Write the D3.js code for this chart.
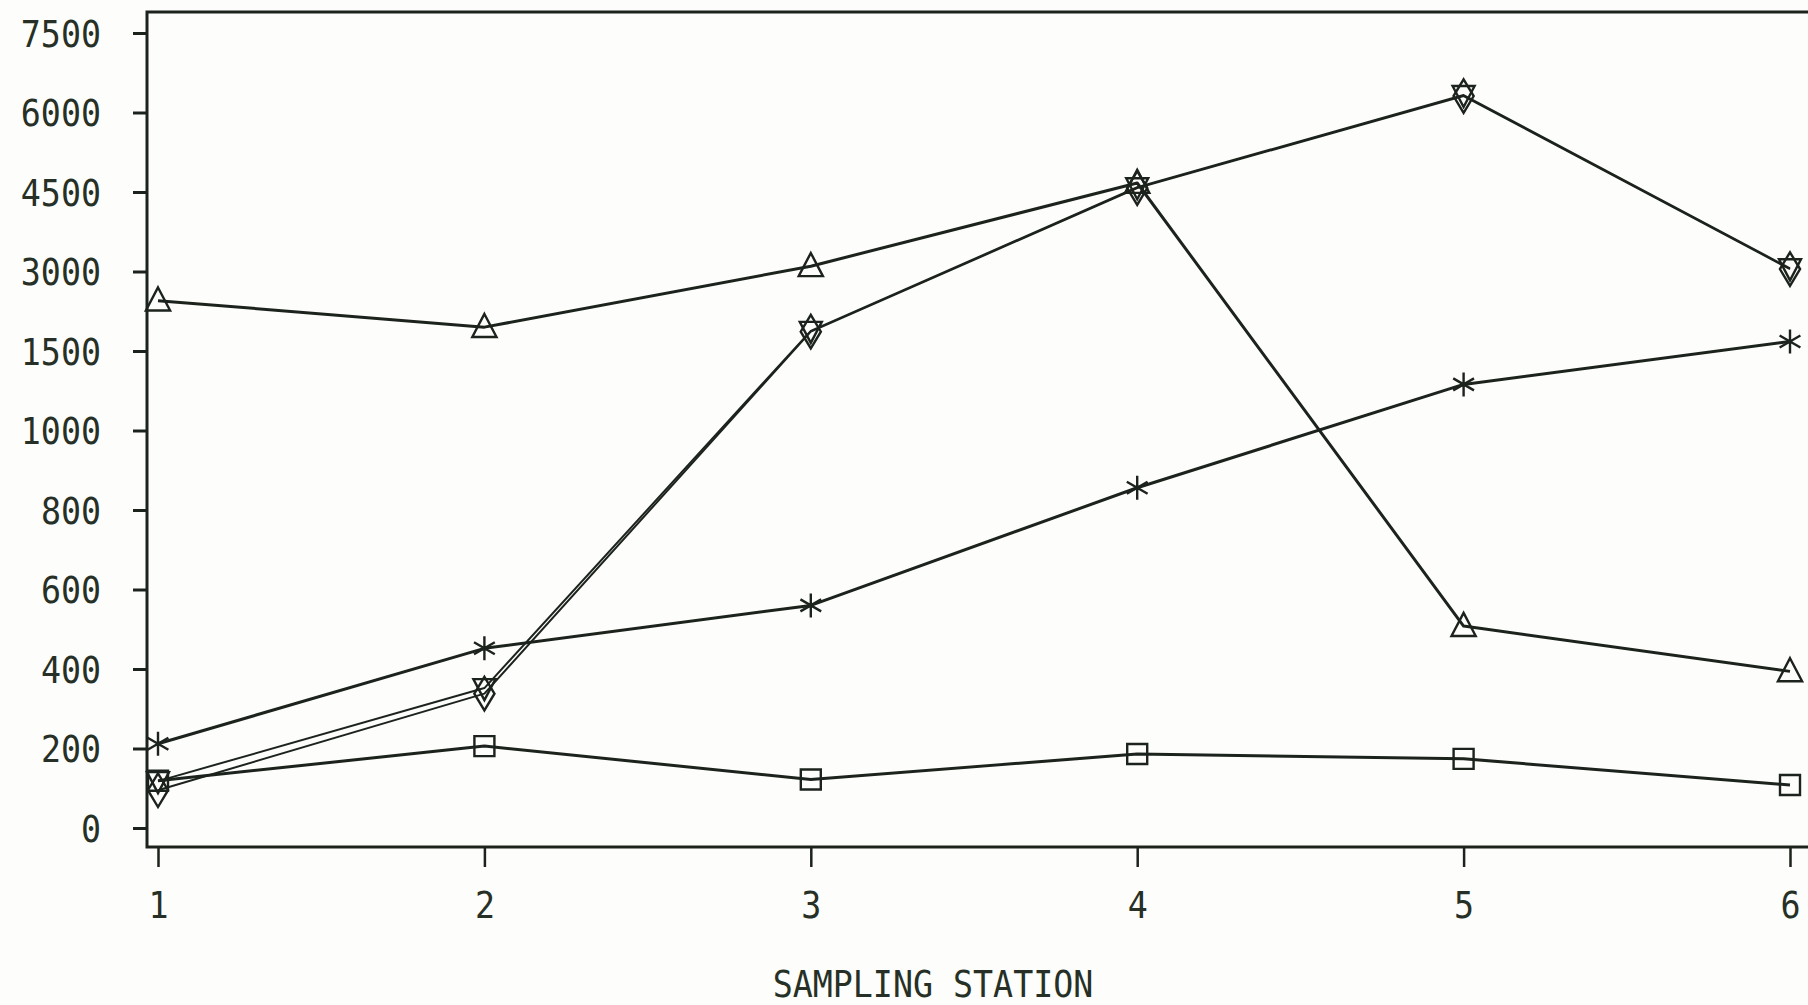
<!DOCTYPE html>
<html>
<head>
<meta charset="utf-8">
<script src="https://cdn.jsdelivr.net/npm/d3@7"></script>
<style>
  html, body { margin: 0; padding: 0; background: #fdfdfb; overflow: hidden; }
  svg { display: block; }
  text { font-family: "DejaVu Sans Mono", "Liberation Mono", monospace; fill: #263026; }
</style>
</head>
<body>
<svg id="chart" width="1808" height="1005"></svg>
<script>
// Sampling stations along the x axis
const stations = [1, 2, 3, 4, 5, 6];

// Y tick values: equally spaced on the axis (piecewise scale)
const yTicks = [0, 200, 400, 600, 800, 1000, 1500, 3000, 4500, 6000, 7500];

// Series values at each station
const triangleValues    = [2450, 1950, 3100, 4670, 508, 394];
const invTriangleValues = [118, 352, 1880, 4590, 6330, 3060];
const diamondValues     = [95, 338, 1865, 4575, 6310, 3045];
const asteriskValues    = [212, 452, 560, 856, 1290, 1680];
const squareValues      = [119, 206, 122, 186, 174, 108];

const xAxisTitle = "SAMPLING STATION";

const frame = { left: 147, top: 12, right: 1830, bottom: 847 };
const ink = "#1c221c";
const fontSize = 37;
const squeeze = 0.9;   // narrower glyphs, like the plotter font

const svg = d3.select("#chart");

const x = d3.scaleLinear().domain([1, 6]).range([158, 1790]);
const y = d3.scaleLinear()
  .domain(yTicks)
  .range(d3.quantize(d3.interpolate(828, 33), yTicks.length));

// Narrow a text horizontally about its anchor point
function condense(sel) {
  sel.each(function () {
    const t = d3.select(this);
    const ax = +t.attr("x") || 0;
    t.attr("transform", `translate(${ax},0) scale(${squeeze},1) translate(${-ax},0)`);
  });
}

// Plot frame
svg.append("rect")
  .attr("x", frame.left).attr("y", frame.top)
  .attr("width", frame.right - frame.left).attr("height", frame.bottom - frame.top)
  .attr("fill", "none").attr("stroke", ink).attr("stroke-width", 3);

// Y axis
const yAxis = svg.append("g")
  .attr("transform", `translate(${frame.left},0)`)
  .call(d3.axisLeft(y).tickValues(yTicks).tickFormat(d3.format("d"))
        .tickSizeInner(14).tickSizeOuter(0).tickPadding(32));
yAxis.select(".domain").remove();
yAxis.selectAll(".tick line").attr("stroke", ink).attr("stroke-width", 3);
yAxis.selectAll(".tick text")
  .attr("font-size", fontSize).attr("dy", "0.36em").style("fill", "#263026")
  .call(condense);

// X axis
const xAxis = svg.append("g")
  .attr("transform", `translate(0,${frame.bottom})`)
  .call(d3.axisBottom(x).tickValues(stations).tickFormat(d3.format("d"))
        .tickSizeInner(20).tickSizeOuter(0).tickPadding(25));
xAxis.select(".domain").remove();
xAxis.selectAll(".tick line").attr("stroke", ink).attr("stroke-width", 2.5);
xAxis.selectAll(".tick text")
  .attr("font-size", fontSize).style("fill", "#263026")
  .call(condense);

svg.append("text")
  .attr("x", 933).attr("y", 997)
  .attr("text-anchor", "middle")
  .attr("font-size", fontSize)
  .text(xAxisTitle)
  .call(condense);

// Marker shapes
const markers = {
  triangle: s => `M0,${-s * 0.6}L${s * 0.55},${s * 0.45}L${-s * 0.55},${s * 0.45}Z`,
  invTriangle: s => `M0,${s * 0.6}L${s * 0.55},${-s * 0.45}L${-s * 0.55},${-s * 0.45}Z`,
  diamond: s => `M0,${-s * 0.7}L${s * 0.42},0L0,${s * 0.7}L${-s * 0.42},0Z`,
  square: s => `M${-s / 2},${-s / 2}h${s}v${s}h${-s}Z`,
  asterisk: s => {
    const r = s / 2, a = Math.cos(Math.PI / 6) * r, b = Math.sin(Math.PI / 6) * r;
    return `M0,${-r}V${r}M${-a},${-b}L${a},${b}M${-a},${b}L${a},${-b}`;
  }
};

const series = [
  { values: squareValues,      marker: "square",      size: 20, width: 3 },
  { values: asteriskValues,    marker: "asterisk",    size: 24, width: 3 },
  { values: diamondValues,     marker: "diamond",     size: 24, width: 2 },
  { values: invTriangleValues, marker: "invTriangle", size: 20, width: 2 },
  { values: triangleValues,    marker: "triangle",    size: 22, width: 3 }
];

const line = d3.line()
  .x((d, i) => x(stations[i]))
  .y(d => y(d));

const plot = svg.append("g");

series.forEach(s => {
  plot.append("path")
    .datum(s.values)
    .attr("d", line)
    .attr("fill", "none")
    .attr("stroke", ink)
    .attr("stroke-width", s.width)
    .attr("stroke-linejoin", "round");

  plot.selectAll(null)
    .data(s.values)
    .join("path")
    .attr("transform", (d, i) => `translate(${x(stations[i])},${y(d)})`)
    .attr("d", markers[s.marker](s.size))
    .attr("fill", "none")
    .attr("stroke", ink)
    .attr("stroke-width", 2.4);
});
</script>
</body>
</html>
